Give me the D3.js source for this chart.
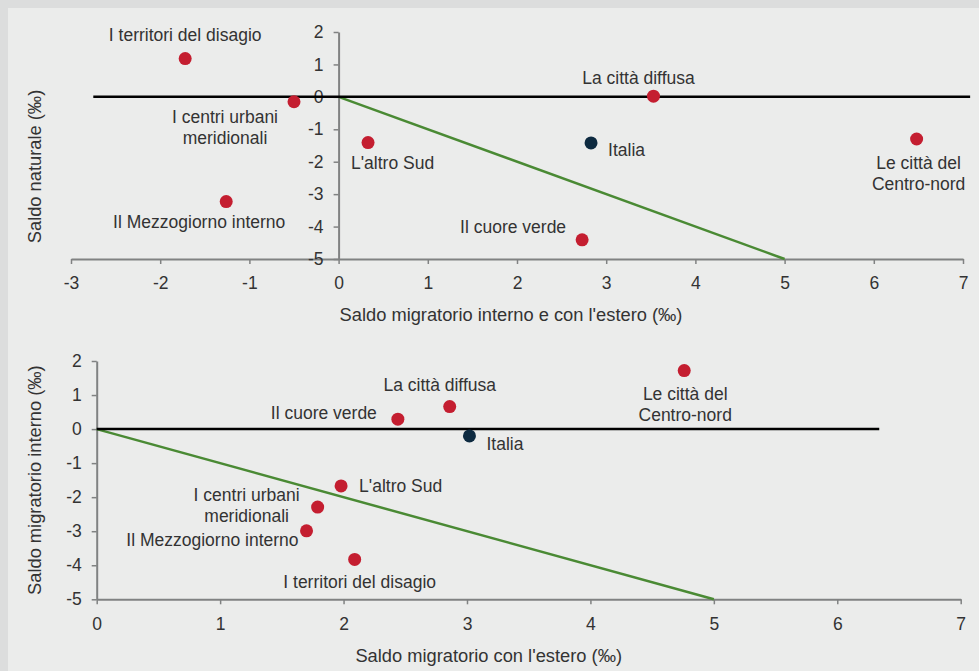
<!DOCTYPE html>
<html><head><meta charset="utf-8">
<script src="https://cdn.jsdelivr.net/npm/d3@7"></script>
<style>
html,body{margin:0;padding:0;background:#dcdddd;}
svg{display:block;}
text{font-family:"Liberation Sans",Arial,sans-serif;fill:#333;}
</style></head><body>
<script>
// ---- Data ----
const areas = ["I territori del disagio","I centri urbani meridionali","Il Mezzogiorno interno","L'altro Sud","La città diffusa","Italia","Il cuore verde","Le città del Centro-nord"];
// Top chart: saldo migratorio totale (x) vs saldo naturale (y)
const migrTotale = [-1.72,-0.50,-1.26,0.33,3.53,2.83,2.73,6.48];
const saldoNaturale = [1.18,-0.15,-3.23,-1.41,0.02,-1.42,-4.41,-1.30];
// Bottom chart: saldo migratorio con l'estero (x) vs interno (y)
const migrEstero = [2.09,1.79,1.70,1.98,2.86,3.02,2.44,4.76];
const migrInterno = [-3.83,-2.29,-2.99,-1.67,0.66,-0.20,0.29,1.72];
const isTotal = [false,false,false,false,false,true,false,false];
// Reference lines
const topZeroLineX = [-2.75,7.08];
const botZeroLineX = [0,6.34];
const diagX = [0,5];
const diagY = [0,-5];
// Ticks
const topXTicks = [-3,-2,-1,0,1,2,3,4,5,6,7];
const topYTicks = [2,1,0,-1,-2,-3,-4,-5];
const botXTicks = [0,1,2,3,4,5,6,7];
const botYTicks = [2,1,0,-1,-2,-3,-4,-5];
// Label lines
const labelLines = [["I territori del disagio"],["I centri urbani","meridionali"],["Il Mezzogiorno interno"],["L'altro Sud"],["La città diffusa"],["Italia"],["Il cuore verde"],["Le città del","Centro-nord"]];
// Label placement (layout): [dx, dy of first line center, anchor]
const topLabelPos = [[0,-24,"middle"],[-69,15,"middle"],[-27,20,"middle"],[-17,20,"start"],[-15,-18,"middle"],[17,7,"start"],[-16,-13,"end"],[2,24,"middle"]];
const botLabelPos = [[5,22,"middle"],[-71,-12,"middle"],[-8,9,"end"],[18,0,"start"],[-10,-22,"middle"],[17,8,"start"],[-21,-6,"end"],[1,23,"middle"]];

const W=979,H=671;
const svg=d3.select("body").append("svg").attr("width",W).attr("height",H);
svg.append("rect").attr("x",8).attr("y",8).attr("width",W-8).attr("height",H-8).attr("fill","#ebeceb");

const RED="#c41e30", NAVY="#0d2a40", GREEN="#4a8a34", AXIS="#808282";

function drawChart(cfg){
  const g=svg.append("g");
  const x=d3.scaleLinear().domain(cfg.xDomain).range(cfg.xRange);
  const y=d3.scaleLinear().domain(cfg.yDomain).range(cfg.yRange);
  const xa=g.append("g").attr("transform",`translate(0,${y(cfg.yDomain[0])})`)
    .call(d3.axisBottom(x).tickValues(cfg.xTicks).tickFormat(d3.format("d")).tickSize(5).tickSizeOuter(0).tickPadding(13));
  const ya=g.append("g").attr("transform",`translate(${x(0)},0)`)
    .call(d3.axisLeft(y).tickValues(cfg.yTicks).tickFormat(d3.format("d")).tickSize(5).tickSizeOuter(0).tickPadding(10));
  [xa,ya].forEach(a=>{
    a.selectAll("path.domain").attr("stroke",AXIS).attr("stroke-width",2);
    a.selectAll(".tick line").attr("stroke",AXIS).attr("stroke-width",1.5);
    a.selectAll(".tick text").attr("font-size",17.5).attr("fill","#333").style("font-family","Liberation Sans, Arial, sans-serif");
  });
  g.selectAll(".tick text").text(d=>String(d));
  g.append("path").attr("d",d3.line().x(d=>x(d[0])).y(d=>y(d[1]))(diagX.map((v,i)=>[v,diagY[i]])))
    .attr("stroke",GREEN).attr("stroke-width",2.5).attr("fill","none");
  g.append("path").attr("d",d3.line().x(d=>x(d)).y(()=>y(0))(cfg.zeroX))
    .attr("stroke","#000").attr("stroke-width",2.5).attr("fill","none");
  g.selectAll("circle.pt").data(areas).join("circle")
    .attr("cx",(d,i)=>x(cfg.xs[i])).attr("cy",(d,i)=>y(cfg.ys[i])).attr("r",6.5)
    .attr("fill",(d,i)=>isTotal[i]?NAVY:RED);
  areas.forEach((a,i)=>{
    const p=cfg.pos[i];
    const t=g.append("text").attr("font-size",17.5).attr("text-anchor",p[2])
      .attr("x",x(cfg.xs[i])+p[0]).attr("y",y(cfg.ys[i])+p[1]);
    labelLines[i].forEach((l,j)=>{
      t.append("tspan").attr("x",x(cfg.xs[i])+p[0]).attr("dy",j===0?"0.35em":"21px").text(l);
    });
  });
  g.append("text").attr("font-size",18.3).attr("text-anchor","middle")
    .attr("x",(cfg.xRange[0]+cfg.xRange[1])/2+cfg.xTitleDx).attr("y",y(cfg.yDomain[0])+56).attr("dy","0.35em").text(cfg.xTitle);
  g.append("text").attr("font-size",18.3).attr("text-anchor","middle")
    .attr("transform",`translate(35,${(cfg.yRange[0]+cfg.yRange[1])/2+cfg.yTitleDy}) rotate(-90)`).attr("dy","0.35em").text(cfg.yTitle);
}

drawChart({xDomain:[-3,7],xRange:[71,963],yDomain:[-5,2],yRange:[259,32],xTicks:topXTicks,yTicks:topYTicks,
  xs:migrTotale,ys:saldoNaturale,zeroX:topZeroLineX,pos:topLabelPos,
  xTitle:"Saldo migratorio interno e con l'estero (‰)",xTitleDx:-6,yTitle:"Saldo naturale (‰)",yTitleDy:21});
drawChart({xDomain:[0,7],xRange:[96.7,960.7],yDomain:[-5,2],yRange:[599.3,361],xTicks:botXTicks,yTicks:botYTicks,
  xs:migrEstero,ys:migrInterno,zeroX:botZeroLineX,pos:botLabelPos,
  xTitle:"Saldo migratorio con l'estero (‰)",xTitleDx:-40,yTitle:"Saldo migratorio interno (‰)",yTitleDy:0});
</script>
</body></html>
